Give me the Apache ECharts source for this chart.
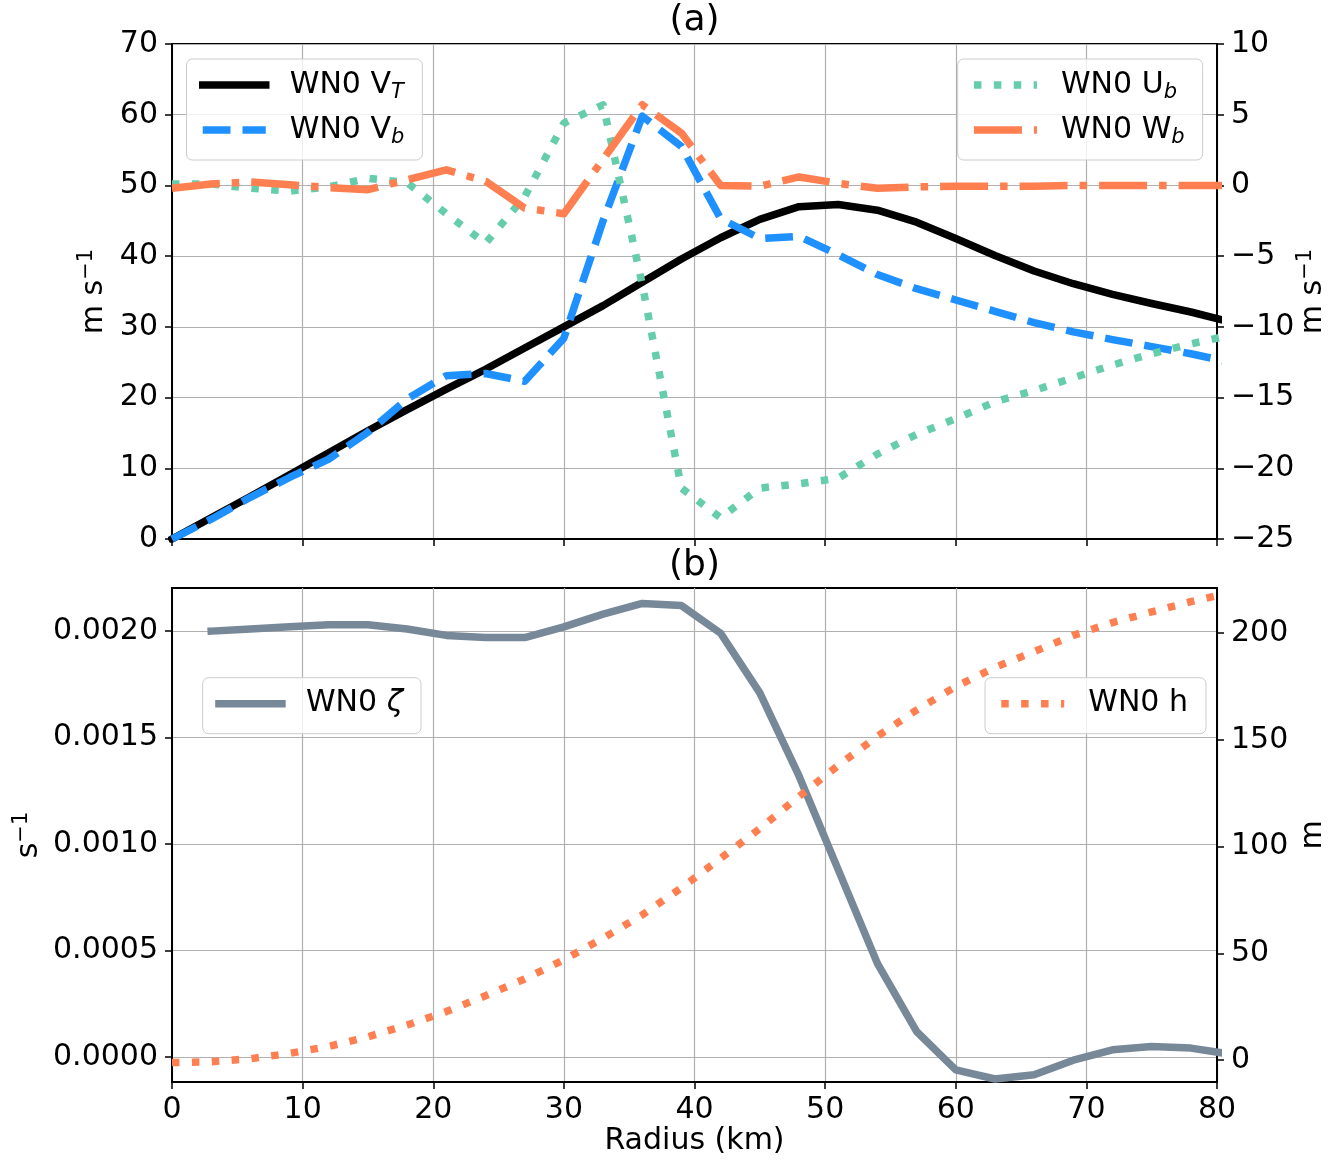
<!DOCTYPE html>
<html><head><meta charset="utf-8">
<script src="https://cdn.jsdelivr.net/npm/echarts@6/dist/echarts.min.js"></script>
<style>html,body{margin:0;padding:0;background:#fff}#c{width:1343px;height:1161px}</style>
</head><body><div id="c"></div>
<script>
// ---------- data ----------
const radius = [0,3,6,9,12,15,18,21,24,27,30,33,36,39,42,45,48,51,54,57,60,63,66,69,72,75,78,81];
const vT   = [0,3.0,6.0,9.1,12.2,15.3,18.3,21.2,24.0,27.0,30.0,33.0,36.3,39.6,42.6,45.2,47.0,47.3,46.5,44.8,42.5,40.1,37.9,36.1,34.6,33.3,32.1,30.7];
const vB   = [0,2.8,5.9,8.7,11.3,15.1,19.8,23.1,23.4,22.3,28.4,45.0,59.8,55.5,45.3,42.5,42.8,40.2,37.4,35.4,33.8,32.2,30.6,29.3,28.2,27.2,26.2,25.0];
const uB   = [0.1,0.1,-0.2,-0.4,-0.1,0.5,0.2,-2.0,-4.1,-0.8,4.4,5.7,-7.0,-21.4,-23.5,-21.4,-21.1,-20.7,-19.0,-17.6,-16.5,-15.3,-14.5,-13.6,-12.7,-11.9,-11.2,-10.6];
const wB   = [-0.2,0.1,0.25,0.05,-0.15,-0.3,0.4,1.1,0.3,-1.6,-2.0,1.85,5.7,3.7,0.0,-0.05,0.6,0.15,-0.2,-0.1,-0.05,-0.05,-0.05,0,0,0,0,0];
const zeta = [null,0.00200,0.00201,0.00202,0.00203,0.00203,0.00201,0.00198,0.00197,0.00197,0.00202,0.00208,0.00213,0.00212,0.00199,0.00171,0.00132,0.00088,0.00044,0.00012,-0.00006,-0.000103,-0.000083,-0.000015,0.000034,0.00005,0.000042,0.000014];
const hgt  = [-1.2,-0.8,0.6,3.1,6.4,10.9,16.4,22.7,30.1,38.0,47.0,57.1,68.0,80.7,94.5,108.5,123.5,138.0,151.7,164.0,175.0,184.0,191.4,199.0,205.0,210.0,214.8,219.0];

const zetaTicks = [0,0.0005,0.001,0.0015,0.002];
const hTicks = [0,50,100,150,200];

const names = ['WN0 VT','WN0 Vb','WN0 Ub','WN0 Wb','WN0 zeta','WN0 h'];
const labels = {
  'WN0 VT': '{g| }WN0 V{sub|T}',
  'WN0 Vb': '{g| }WN0 V{sub|b}',
  'WN0 Ub': '{g| }WN0 U{sub|b}',
  'WN0 Wb': '{g| }WN0 W{sub|b}',
  'WN0 zeta': '{g| }WN0 {it|\u03B6}',
  'WN0 h': '{g| }WN0 h'
};

// ---------- style ----------
const FONT = '"DejaVu Sans", sans-serif';
const FS = 30, LH = 36, LW = 7.5;
const C = {vT:'#000000', vB:'#1E90FF', uB:'#66CDAA', wB:'#FF7F50', zeta:'#778899', h:'#FF7F50'};
const DASH = [27.75, 12], DOT = [7.5, 12.4], DASHDOT = [48, 12, 7.5, 12];
const rich = {
  sub: {fontSize:21, fontFamily:FONT, fontStyle:'italic', lineHeight:21, verticalAlign:'bottom', color:'#000'},
  sup: {fontSize:21, fontFamily:FONT, lineHeight:21, verticalAlign:'top', color:'#000'},
  it:  {fontSize:FS, fontFamily:FONT, fontStyle:'italic', lineHeight:LH, color:'#000'},
  g:   {width:19, fontSize:FS, lineHeight:LH}
};
const txt = {fontSize:FS, fontFamily:FONT, color:'#000', lineHeight:LH};
const pairs = arr => radius.map((r,i)=>[r, arr[i]]);
const minus = v => String(v).replace('-', '\u2212');

function lineSty(color, type, solid){
  return {color, width:LW, type, cap: solid ? 'square' : 'butt', join:'round'};
}
const axLine = {show:true, onZero:false, lineStyle:{color:'#000', width:2}};
const axTick = {show:true, length:7, inside:false, lineStyle:{color:'#000', width:1.5}};
const grid2 = {show:true, lineStyle:{color:'#b0b0b0', width:1.2}};

function legend(left, top, items, styles){
  return {
    left, top, orient:'vertical', selectedMode:false,
    itemWidth:63, itemHeight:LH, itemGap:9,
    padding:[8, 18, 12, 12.5],
    backgroundColor:'rgba(255,255,255,0.8)', borderColor:'#cccccc', borderWidth:1, borderRadius:6,
    itemStyle:{opacity:0},
    data: items.map((n,i)=>({name:n, lineStyle:styles[i], itemStyle:{opacity:0}})),
    formatter: n => labels[n],
    textStyle: Object.assign({}, txt, {rich})
  };
}

const option = {
  animation:false,
  backgroundColor:'#ffffff',
  grid:[
    {left:172, right:126, top:44, height:495, outerBoundsMode:'none', containLabel:false, show:true, borderColor:'#000', borderWidth:2, backgroundColor:'transparent'},
    {left:172, right:126, top:588, height:494, outerBoundsMode:'none', containLabel:false, show:true, borderColor:'#000', borderWidth:2, backgroundColor:'transparent'}
  ],
  xAxis:[
    {type:'value', gridIndex:0, min:0, max:80, interval:10, axisLine:axLine, axisTick:axTick,
     axisLabel:{show:false}, splitLine:grid2},
    {type:'value', gridIndex:1, min:0, max:80, interval:10, axisLine:axLine, axisTick:axTick,
     axisLabel:Object.assign({margin:10.5}, txt), splitLine:grid2,
     name:'Radius (km)', nameLocation:'middle', nameGap:41.5, nameMoveOverlap:false, nameTextStyle:txt}
  ],
  yAxis:[
    {type:'value', gridIndex:0, position:'left', min:0, max:70, interval:10, axisLine:axLine, axisTick:axTick,
     axisLabel:Object.assign({margin:14}, txt), splitLine:grid2,
     name:'m s{sup|\u22121}', nameLocation:'middle', nameRotate:90, nameGap:60, nameMoveOverlap:false,
     nameTextStyle:Object.assign({rich}, txt)},
    {type:'value', gridIndex:0, position:'right', min:-25, max:10, interval:5, axisLine:axLine, axisTick:axTick,
     axisLabel:Object.assign({margin:14, formatter:minus}, txt), splitLine:{show:false},
     name:'m s{sup|\u22121}', nameLocation:'middle', nameRotate:90, nameGap:78, nameMoveOverlap:false,
     nameTextStyle:Object.assign({rich}, txt)},
    {type:'value', gridIndex:1, position:'left', min:-0.0001172, max:0.0022025, axisLine:axLine,
     axisTick:Object.assign({customValues:zetaTicks}, axTick),
     axisLabel:Object.assign({margin:14, customValues:zetaTicks, formatter:v=>v.toFixed(4)}, txt),
     splitLine:grid2,
     name:'s{sup|\u22121}', nameLocation:'middle', nameRotate:90, nameGap:124.5, nameMoveOverlap:false,
     nameTextStyle:Object.assign({rich}, txt)},
    {type:'value', gridIndex:1, position:'right', min:-10.3, max:221.2, axisLine:axLine,
     axisTick:Object.assign({customValues:hTicks}, axTick),
     axisLabel:Object.assign({margin:14, customValues:hTicks, formatter:minus}, txt),
     splitLine:{show:false},
     name:'m', nameLocation:'middle', nameRotate:90, nameGap:78, nameMoveOverlap:false,
     nameTextStyle:Object.assign({rich}, txt)}
  ],
  legend:[
    legend(186.5, 59, ['WN0 VT','WN0 Vb'], [lineSty(C.vT,'solid',true), lineSty(C.vB,DASH,false)]),
    legend(957.7, 59, ['WN0 Ub','WN0 Wb'], [lineSty(C.uB,DOT,false), lineSty(C.wB,DASHDOT,false)]),
    legend(202.7, 677.7, ['WN0 zeta'], [lineSty(C.zeta,'solid',true)]),
    legend(985, 677.7, ['WN0 h'], [lineSty(C.h,DOT,false)])
  ],
  graphic:[
    {type:'text', x:694.5, y:2.4, style:{text:'(a)', align:'center', verticalAlign:'top', fontSize:36, fontFamily:FONT, lineHeight:36, fill:'#000'}},
    {type:'text', x:694.5, y:547.4, style:{text:'(b)', align:'center', verticalAlign:'top', fontSize:36, fontFamily:FONT, lineHeight:36, fill:'#000'}}
  ],
  series:[
    {name:'WN0 VT', type:'line', xAxisIndex:0, yAxisIndex:0, symbol:'none', data:pairs(vT), lineStyle:lineSty(C.vT,'solid',true), itemStyle:{color:C.vT}},
    {name:'WN0 Vb', type:'line', xAxisIndex:0, yAxisIndex:0, symbol:'none', data:pairs(vB), lineStyle:lineSty(C.vB,DASH,false), itemStyle:{color:C.vB}},
    {name:'WN0 Ub', type:'line', xAxisIndex:0, yAxisIndex:1, symbol:'none', data:pairs(uB), lineStyle:lineSty(C.uB,DOT,false), itemStyle:{color:C.uB}},
    {name:'WN0 Wb', type:'line', xAxisIndex:0, yAxisIndex:1, symbol:'none', data:pairs(wB), lineStyle:lineSty(C.wB,DASHDOT,false), itemStyle:{color:C.wB}},
    {name:'WN0 zeta', type:'line', xAxisIndex:1, yAxisIndex:2, symbol:'none', data:pairs(zeta), lineStyle:lineSty(C.zeta,'solid',true), itemStyle:{color:C.zeta}},
    {name:'WN0 h', type:'line', xAxisIndex:1, yAxisIndex:3, symbol:'none', data:pairs(hgt), lineStyle:lineSty(C.h,DOT,false), itemStyle:{color:C.h}}
  ]
};
const chart = echarts.init(document.getElementById('c'), null, {renderer:'canvas'});
chart.setOption(option);
</script>
</body></html>
